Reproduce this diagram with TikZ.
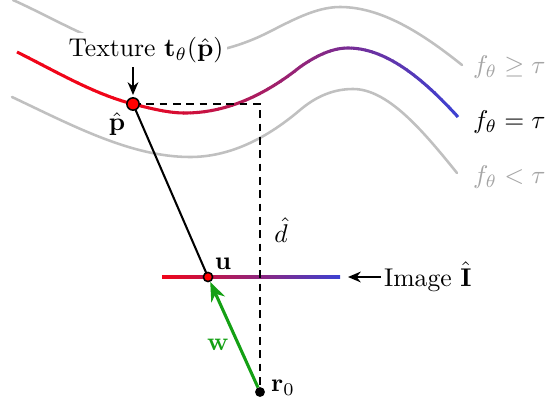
\documentclass[tikz,border=0pt]{standalone}
\usetikzlibrary{arrows.meta}
\definecolor{cred}{RGB}{240,5,25}
\definecolor{cblue}{RGB}{60,65,210}
\definecolor{cgray}{RGB}{192,192,192}
\definecolor{cgtext}{RGB}{165,165,165}
\definecolor{cgreen}{RGB}{20,160,20}
\begin{document}
\begin{tikzpicture}[x=0.39pt,y=-0.39pt,
  graycurve/.style={draw=cgray, line width=1pt, line cap=round},
  dotnode/.style={circle, draw=black, line width=0.6pt, inner sep=0pt},
  dashline/.style={dash pattern=on 3pt off 2.2pt, line width=0.8pt},
  lab/.style={inner sep=1pt},
  midcurve/.style={insert path={(17,52) .. controls (55.7,71.3) and (94.3,94.3) .. (133,104)
     .. controls (150.3,108.3) and (167.7,113) .. (185,113)
     .. controls (223.3,113) and (261.7,97.6) .. (300,67)
     .. controls (316,55.8) and (332,48) .. (348,48)
     .. controls (384.7,48) and (421.3,76.6) .. (458,117)}}
]
\useasboundingbox (0,0) rectangle (548,405);

% level sets
\draw[graycurve] (13,0) .. controls (63.7,22.8) and (114.3,56) .. (165,56)
  .. controls (199,56) and (233,50) .. (267,33)
  .. controls (291.3,20.8) and (315.7,7) .. (340,7)
  .. controls (380.7,7) and (421.3,32.4) .. (462,65);
\draw[graycurve] (12,97) .. controls (71.3,124.9) and (130.7,157) .. (190,157)
  .. controls (226.7,157) and (263.3,141.2) .. (300,110)
  .. controls (317.7,95) and (335.3,89) .. (353,89)
  .. controls (387.7,89) and (422.3,130) .. (457,173);

% zero level set with colour gradient (vertical strips)
\foreach \i in {0,...,63}{
  \pgfmathsetmacro\xa{15+\i*7}
  \pgfmathsetmacro\xb{\xa+7.6}
  \pgfmathsetmacro\mixf{max(0,min(100,(458-(\xa+3.5))/3.28))}
  \begin{scope}
    \clip (\xa,-10) rectangle (\xb,200);
    \draw[cred!\mixf!cblue, line width=1.2pt, midcurve];
  \end{scope}
}

% image line
\shade[left color=cred, right color=cblue] (162,275.5) rectangle (340,278.5);

% positions
\coordinate (pc) at (133,104);
\coordinate (uc) at (208,277);
\coordinate (rc) at (260,392);
\coordinate (corner) at (260,104);

\draw[dashline] (pc) -- (corner) -- (rc);
\draw[line width=0.8pt] (pc) -- (uc);

\node[fill=white, inner sep=1.5pt] (tex) at (146,50) {Texture $\mathbf{t}_\theta(\hat{\mathbf{p}})$};

\node[dotnode, fill=red, minimum size=4.8pt] (p) at (pc) {};
\node[dotnode, fill=red, minimum size=3.6pt] (u) at (uc) {};

\coordinate (ptop) at (133,95);
\draw[line width=0.7pt, -{Stealth[length=5pt,width=4.2pt]}] (tex.south -| ptop) -- (ptop);

\node[dotnode, fill=black, minimum size=3.2pt] (r) at (rc) {};
\draw[cgreen, line width=1.2pt, -{Stealth[length=7.5pt,width=5.8pt]}] (r) -- (u);

\node[lab] (plab) at (117,124) {$\hat{\mathbf{p}}$};
\node[lab] (ulab) at (223,264) {$\mathbf{u}$};
\node[lab, text=cgreen] (wlab) at (218,345) {$\mathbf{w}$};
\node[lab] (rlab) at (283,388) {$\mathbf{r}_0$};
\node[lab] (dlab) at (281,230) {$\hat{d}$};

\node[lab, anchor=west] (img) at (381,277) {Image $\hat{\mathbf{I}}$};
\coordinate (imgtip) at (348,277);
\draw[line width=0.7pt, -{Stealth[length=5pt,width=4.2pt]}] (img.west) -- (imgtip);

\node[lab, anchor=west, text=cgtext] (fge) at (470,67) {$f_\theta \geq \tau$};
\node[lab, anchor=west] (feq) at (470,122) {$f_\theta = \tau$};
\node[lab, anchor=west, text=cgtext] (flt) at (470,177) {$f_\theta < \tau$};
\end{tikzpicture}
\end{document}
